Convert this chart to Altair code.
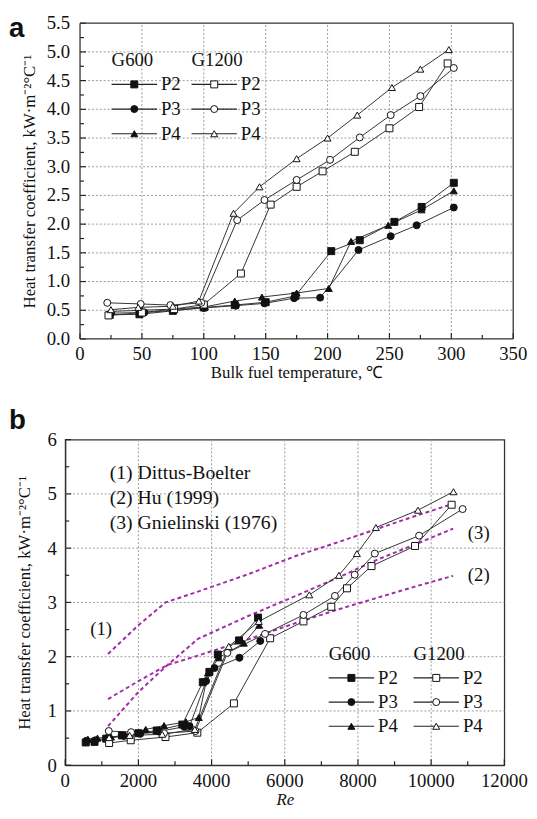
import altair as alt
import pandas as pd

SERIF = "Liberation Serif"

GROUPS = ["G600", "G1200"]
PRESSURES = ["P2", "P3", "P4"]

# ---------------- Panel a: HTC vs bulk fuel temperature (°C) ----------------
T_G600_P2 = [24, 48, 75, 100, 125, 150, 174, 203, 226, 254, 276, 302]
T_G600_P3 = [25, 52, 76, 100, 126, 149, 173, 194, 225, 251, 272, 302]
T_G600_P4 = [25, 50, 76, 101, 125, 147, 175, 201, 219, 249, 276, 302]
T_G1200_P2 = [23, 50, 76, 100, 130, 154, 175, 196, 222, 250, 274, 297]
T_G1200_P3 = [22, 49, 73, 98, 127, 149, 175, 202, 226, 251, 275, 302]
T_G1200_P4 = [25, 47, 75, 96, 124, 145, 175, 200, 224, 252, 275, 298]

# heat transfer coefficient, kW/(m2 °C) (same points in both panels)
H_G600_P2 = [0.42, 0.43, 0.49, 0.55, 0.59, 0.64, 0.75, 1.53, 1.72, 2.04, 2.30, 2.72]
H_G600_P3 = [0.45, 0.46, 0.50, 0.54, 0.58, 0.62, 0.71, 0.72, 1.55, 1.79, 1.98, 2.29]
H_G600_P4 = [0.48, 0.50, 0.52, 0.56, 0.66, 0.73, 0.80, 0.88, 1.70, 1.98, 2.25, 2.58]
H_G1200_P2 = [0.41, 0.46, 0.52, 0.60, 1.14, 2.34, 2.65, 2.92, 3.26, 3.67, 4.04, 4.80]
H_G1200_P3 = [0.63, 0.61, 0.59, 0.63, 2.07, 2.42, 2.77, 3.12, 3.51, 3.90, 4.23, 4.72]
H_G1200_P4 = [0.51, 0.55, 0.57, 0.66, 2.19, 2.65, 3.14, 3.50, 3.90, 4.38, 4.70, 5.04]

# ---------------- Panel b: HTC vs Re ----------------
RE_G600_P2 = [560, 800, 1120, 1550, 2000, 2500, 3200, 3760, 3940, 4170, 4750, 5270]
RE_G600_P3 = [580, 820, 1150, 1600, 2050, 2550, 3250, 3400, 3850, 4080, 4760, 5330]
RE_G600_P4 = [620, 880, 1250, 1750, 2200, 2700, 3300, 3650, 3900, 4200, 4880, 5300]
RE_G1200_P2 = [1200, 1790, 2740, 3610, 4610, 5600, 6510, 7270, 7700, 8370, 9560, 10560]
RE_G1200_P3 = [1190, 1800, 2700, 3560, 4430, 5460, 6510, 7370, 7910, 8460, 9670, 10860]
RE_G1200_P4 = [1200, 1760, 2650, 3540, 4470, 5290, 6670, 7480, 7970, 8490, 9640, 10610]

# correlations
CORR_IDS = ["(1)", "(2)", "(3)"]
CORR_NAMES = ["(1) Dittus-Boelter", "(2) Hu (1999)", "(3) Gnielinski (1976)"]
RE_DB = [1170, 1950, 2740, 3630, 5000, 6320, 7500, 8500, 9600, 10560]
H_DB = [2.05, 2.55, 3.00, 3.20, 3.52, 3.86, 4.12, 4.35, 4.60, 4.81]
RE_HU = [1170, 2000, 2800, 3630, 5000, 6300, 7500, 8500, 9600, 10600]
H_HU = [1.22, 1.55, 1.85, 2.02, 2.32, 2.62, 2.88, 3.08, 3.30, 3.49]
RE_GN = [1170, 2000, 2750, 3630, 5000, 6300, 7500, 8500, 9600, 10600]
H_GN = [0.72, 1.35, 1.82, 2.33, 2.75, 3.12, 3.47, 3.78, 4.08, 4.36]
CORR_LABEL_RE = [980, 11300, 11300]
CORR_LABEL_H = [2.50, 3.51, 4.27]

# axis ticks / labels
A_X_MAJOR = [0, 50, 100, 150, 200, 250, 300, 350]
A_X_LABELS = ["0", "50", "100", "150", "200", "250", "300", "350"]
A_X_MINOR = [25, 75, 125, 175, 225, 275, 325]
A_Y_MAJOR = [0.0, 0.5, 1.0, 1.5, 2.0, 2.5, 3.0, 3.5, 4.0, 4.5, 5.0, 5.5]
A_Y_LABELS = ["0.0", "0.5", "1.0", "1.5", "2.0", "2.5", "3.0", "3.5", "4.0", "4.5", "5.0", "5.5"]
A_Y_MINOR = [0.25, 0.75, 1.25, 1.75, 2.25, 2.75, 3.25, 3.75, 4.25, 4.75, 5.25]
B_X_MAJOR = [0, 2000, 4000, 6000, 8000, 10000, 12000]
B_X_LABELS = ["0", "2000", "4000", "6000", "8000", "10000", "12000"]
B_X_MINOR = [1000, 3000, 5000, 7000, 9000, 11000]
B_Y_MAJOR = [0, 1, 2, 3, 4, 5, 6]
B_Y_MINOR = [0.5, 1.5, 2.5, 3.5, 4.5, 5.5]

# ---------------- tables ----------------
T = {("G600", "P2"): T_G600_P2, ("G600", "P3"): T_G600_P3, ("G600", "P4"): T_G600_P4,
     ("G1200", "P2"): T_G1200_P2, ("G1200", "P3"): T_G1200_P3, ("G1200", "P4"): T_G1200_P4}
H = {("G600", "P2"): H_G600_P2, ("G600", "P3"): H_G600_P3, ("G600", "P4"): H_G600_P4,
     ("G1200", "P2"): H_G1200_P2, ("G1200", "P3"): H_G1200_P3, ("G1200", "P4"): H_G1200_P4}
RE = {("G600", "P2"): RE_G600_P2, ("G600", "P3"): RE_G600_P3, ("G600", "P4"): RE_G600_P4,
      ("G1200", "P2"): RE_G1200_P2, ("G1200", "P3"): RE_G1200_P3, ("G1200", "P4"): RE_G1200_P4}

rows = []
for (g, p), hs in H.items():
    for i, h in enumerate(hs):
        rows.append(dict(G=g, P=p, S=f"{g}-{p}", i=i, T=T[(g, p)][i], Re=RE[(g, p)][i], h=h))
df = pd.DataFrame(rows)

crows = []
for cid, xs, ys in zip(CORR_IDS, [RE_DB, RE_HU, RE_GN], [H_DB, H_HU, H_GN]):
    for i, (x, y) in enumerate(zip(xs, ys)):
        crows.append(dict(C=cid, i=i, Re=x, h=y))
dfc = pd.DataFrame(crows)
dfl = pd.DataFrame({"C": CORR_IDS, "Re": CORR_LABEL_RE, "h": CORR_LABEL_H})

YTITLE = "Heat transfer coefficient, kW·m⁻²°C⁻¹"

fill_scale = alt.Scale(domain=GROUPS, range=["#111111", "#ffffff"])
shape_scale = alt.Scale(domain=PRESSURES, range=["square", "circle", "triangle-up"])

AX = dict(labelFont=SERIF, labelFontSize=19, labelColor="#111", titleFont=SERIF,
          titleFontSize=17, titleFontWeight="normal", titleColor="#111",
          domainColor="#333", domainWidth=1.2, ticks=False, grid=False, labelOverlap=False)

GRID = dict(color="#9a9a9a", strokeWidth=1, strokeDash=[2, 2], opacity=1)
LFONT = 19


def pxX(f):
    return alt.X(f"{f}:Q", scale=None)


def pxY(f):
    return alt.Y(f"{f}:Q", scale=None)


def legend_layers(x0, y0, col_dx, row_dy, line_len, gap):
    hdr = pd.DataFrame({"G": GROUPS, "px": [x0, x0 + col_dx], "py": [y0, y0]})
    ent = []
    for gi, g in enumerate(GROUPS):
        for pi, p in enumerate(PRESSURES):
            xl = x0 + gi * col_dx
            ent.append(dict(G=g, P=p, xl=xl, xr=xl + line_len, xm=xl + line_len / 2,
                            xt=xl + line_len + gap, py=y0 + (pi + 1) * row_dy))
    ent = pd.DataFrame(ent)
    head = alt.Chart(hdr).mark_text(font=SERIF, fontSize=LFONT, align="left", baseline="middle",
                                    color="#111").encode(x=pxX("px"), y=pxY("py"), text="G:N")
    lines = alt.Chart(ent).mark_rule(color="#222", strokeWidth=1.2).encode(
        x=pxX("xl"), x2="xr:Q", y=pxY("py"))
    pts = alt.Chart(ent).mark_point(filled=True, size=50, stroke="#111", strokeWidth=1,
                                    opacity=1).encode(
        x=pxX("xm"), y=pxY("py"),
        fill=alt.Fill("G:N", scale=fill_scale, legend=None),
        shape=alt.Shape("P:N", scale=shape_scale, legend=None))
    txt = alt.Chart(ent).mark_text(font=SERIF, fontSize=LFONT, align="left", baseline="middle",
                                   color="#111").encode(x=pxX("xt"), y=pxY("py"), text="P:N")
    return [lines, pts, head, txt]


def grid_layers(xf, xvals, xlo, xhi, yf, yvals, ylo, yhi):
    n, m = len(xvals), len(yvals)
    gx = alt.Chart(pd.DataFrame({xf: xvals, yf: [ylo] * n, "e2": [yhi] * n})).mark_rule(**GRID).encode(
        x=alt.X(f"{xf}:Q"), y=alt.Y(f"{yf}:Q"), y2="e2:Q")
    gy = alt.Chart(pd.DataFrame({yf: yvals, xf: [xlo] * m, "e2": [xhi] * m})).mark_rule(**GRID).encode(
        y=alt.Y(f"{yf}:Q"), x=alt.X(f"{xf}:Q"), x2="e2:Q")
    return [gx, gy]


def ticks_layers(xf, xmajor, xminor, xlo, xpp, yf, ymajor, yminor, ylo, ypp):
    # xpp / ypp: data units per pixel, tick lengths given in pixels
    out = []
    for vals, ln in [(xmajor, 6), (xminor, 4)]:
        n = len(vals)
        out.append(alt.Chart(pd.DataFrame({xf: vals, yf: [ylo] * n, "e2": [ylo + ln * ypp] * n}))
                   .mark_rule(color="#222", strokeWidth=1.2)
                   .encode(x=alt.X(f"{xf}:Q"), y=alt.Y(f"{yf}:Q"), y2="e2:Q"))
    for vals, ln in [(ymajor, 6), (yminor, 4)]:
        n = len(vals)
        out.append(alt.Chart(pd.DataFrame({yf: vals, xf: [xlo] * n, "e2": [xlo + ln * xpp] * n}))
                   .mark_rule(color="#222", strokeWidth=1.2)
                   .encode(y=alt.Y(f"{yf}:Q"), x=alt.X(f"{xf}:Q"), x2="e2:Q"))
    return out


def xlabel_layers(xfield, vals, labels, y, last_halfwidth):
    body = alt.Chart(pd.DataFrame({xfield: vals[:-1], "lab": labels[:-1]})).mark_text(
        font=SERIF, fontSize=LFONT, align="center", baseline="middle", color="#111").encode(
        x=alt.X(f"{xfield}:Q"), y=alt.value(y), text="lab:N")
    last = alt.Chart(pd.DataFrame({xfield: vals[-1:], "lab": labels[-1:]})).mark_text(
        font=SERIF, fontSize=LFONT, align="right", baseline="middle", color="#111",
        dx=last_halfwidth).encode(x=alt.X(f"{xfield}:Q"), y=alt.value(y), text="lab:N")
    return [body, last]


def panel_label(letter, x, y):
    return alt.Chart(pd.DataFrame({"L": [letter]})).mark_text(
        font="Liberation Sans", fontWeight="bold", fontSize=28, align="left", baseline="top",
        color="#111").encode(x=alt.value(x), y=alt.value(y), text="L:N")


# ---------------- panel a ----------------
GUT = 15            # panel a starts 15 px right of panel b
PW1, H1 = 439, 320  # plotted frame of panel a
W1 = GUT + PW1
X_LO = -350 * GUT / PW1

xa = alt.X("T:Q", scale=alt.Scale(domain=[X_LO, 350], nice=False, zero=False),
           axis=alt.Axis(labels=False, domain=False, title="Bulk fuel temperature, ℃",
                         titlePadding=26, titleX=GUT + PW1 / 2, **AX))
ya = alt.Y("h:Q", scale=alt.Scale(domain=[0, 5.5], nice=False),
           axis=alt.Axis(labels=False, domain=False, title=YTITLE, titlePadding=27, **AX))

lines_a = alt.Chart(df).mark_line(color="#333", strokeWidth=1).encode(
    x=xa, y=ya, detail="S:N", order="i:Q")
pts_a = alt.Chart(df).mark_point(filled=True, size=50, stroke="#111", strokeWidth=1, opacity=1).encode(
    x=alt.X("T:Q"), y=alt.Y("h:Q"),
    fill=alt.Fill("G:N", scale=fill_scale, legend=None),
    shape=alt.Shape("P:N", scale=shape_scale, legend=None))
ylab_a = alt.Chart(pd.DataFrame({"h": A_Y_MAJOR, "lab": A_Y_LABELS})).mark_text(
    font=SERIF, fontSize=LFONT, align="right", baseline="middle", color="#111").encode(
    y=alt.Y("h:Q"), x=alt.value(GUT - 10), text="lab:N")
xlab_a = xlabel_layers("T", A_X_MAJOR, A_X_LABELS, H1 + 15, 14.25)

frame_a = [
    alt.Chart(pd.DataFrame({"k": [0]})).mark_rule(color="#333", strokeWidth=1.3).encode(
        x=alt.value(GUT), x2=alt.value(W1), y=alt.value(0)),
    alt.Chart(pd.DataFrame({"k": [0]})).mark_rule(color="#333", strokeWidth=1.3).encode(
        x=alt.value(GUT), x2=alt.value(W1), y=alt.value(H1)),
    alt.Chart(pd.DataFrame({"k": [0]})).mark_rule(color="#333", strokeWidth=1.3).encode(
        x=alt.value(GUT), y=alt.value(0), y2=alt.value(H1)),
    alt.Chart(pd.DataFrame({"k": [0]})).mark_rule(color="#333", strokeWidth=1.3).encode(
        x=alt.value(W1), y=alt.value(0), y2=alt.value(H1)),
]

grid_a = grid_layers("T", A_X_MAJOR[1:-1], 0, 350, "h", A_Y_MAJOR[1:-1], 0, 5.5)
ticks_a = ticks_layers("T", A_X_MAJOR, A_X_MINOR, 0, 350 / PW1,
                       "h", A_Y_MAJOR, A_Y_MINOR, 0, 5.5 / H1)

chart_a = alt.layer(
    *grid_a, lines_a, pts_a, ylab_a, *xlab_a, *ticks_a, *frame_a,
    *legend_layers(GUT + 32, 37, 81, 25, 46, 4), panel_label("a", -57, -8)
).properties(width=W1, height=H1, view=alt.ViewBackground(stroke="transparent"))

# ---------------- panel b ----------------
W2, H2 = 445, 330
xb = alt.X("Re:Q", scale=alt.Scale(domain=[0, 12000], nice=False, zero=False),
           axis=alt.Axis(labels=False, title="Re", titleFontStyle="italic", titlePadding=27, **AX))
yb = alt.Y("h:Q", scale=alt.Scale(domain=[0, 6], nice=False),
           axis=alt.Axis(values=B_Y_MAJOR, format="d", title=YTITLE, labelFlush=False,
                         labelPadding=9, titlePadding=14, **AX))

corr_b = alt.Chart(dfc).mark_line(color="#a22ca8", strokeWidth=2, strokeDash=[4, 3]).encode(
    x=xb, y=yb, detail="C:N", order="i:Q")
corr_lab = alt.Chart(dfl).mark_text(font=SERIF, fontSize=LFONT, color="#111").encode(
    x=alt.X("Re:Q"), y=alt.Y("h:Q"), text="C:N")
lines_b = alt.Chart(df).mark_line(color="#333", strokeWidth=1).encode(
    x=alt.X("Re:Q"), y=alt.Y("h:Q"), detail="S:N", order="i:Q")
pts_b = alt.Chart(df).mark_point(filled=True, size=50, stroke="#111", strokeWidth=1, opacity=1).encode(
    x=alt.X("Re:Q"), y=alt.Y("h:Q"),
    fill=alt.Fill("G:N", scale=fill_scale, legend=None),
    shape=alt.Shape("P:N", scale=shape_scale, legend=None))
xlab_b = xlabel_layers("Re", B_X_MAJOR, B_X_LABELS, H2 + 16, 23.75)

ctext = pd.DataFrame({"t": CORR_NAMES, "px": [45] * 3, "py": [34 + 25.5 * k for k in range(3)]})
corr_text = alt.Chart(ctext).mark_text(font=SERIF, fontSize=20, align="left", baseline="middle",
                                       color="#111").encode(x=pxX("px"), y=pxY("py"), text="t:N")

grid_b = grid_layers("Re", B_X_MAJOR[1:-1], 0, 12000, "h", B_Y_MAJOR[1:-1], 0, 6)
ticks_b = ticks_layers("Re", B_X_MAJOR, B_X_MINOR, 0, 12000 / W2,
                       "h", B_Y_MAJOR, B_Y_MINOR, 0, 6 / H2)

chart_b = alt.layer(
    *grid_b, corr_b, lines_b, pts_b, corr_lab, corr_text, *xlab_b, *ticks_b,
    *legend_layers(267, 217, 86, 24.5, 46, 4), panel_label("b", -57, -33)
).properties(width=W2, height=H2)

chart = alt.concat(chart_a, chart_b, columns=1, spacing=25).properties(
    padding={"left": 0, "top": 0, "right": 0, "bottom": 0}, background="white"
).configure(padding={"left": 0, "top": 0, "right": 0, "bottom": 0}).configure_view(
    stroke="#333", strokeWidth=1.3)

chart.save("out.html", embed_options={"renderer": "svg", "actions": False})
